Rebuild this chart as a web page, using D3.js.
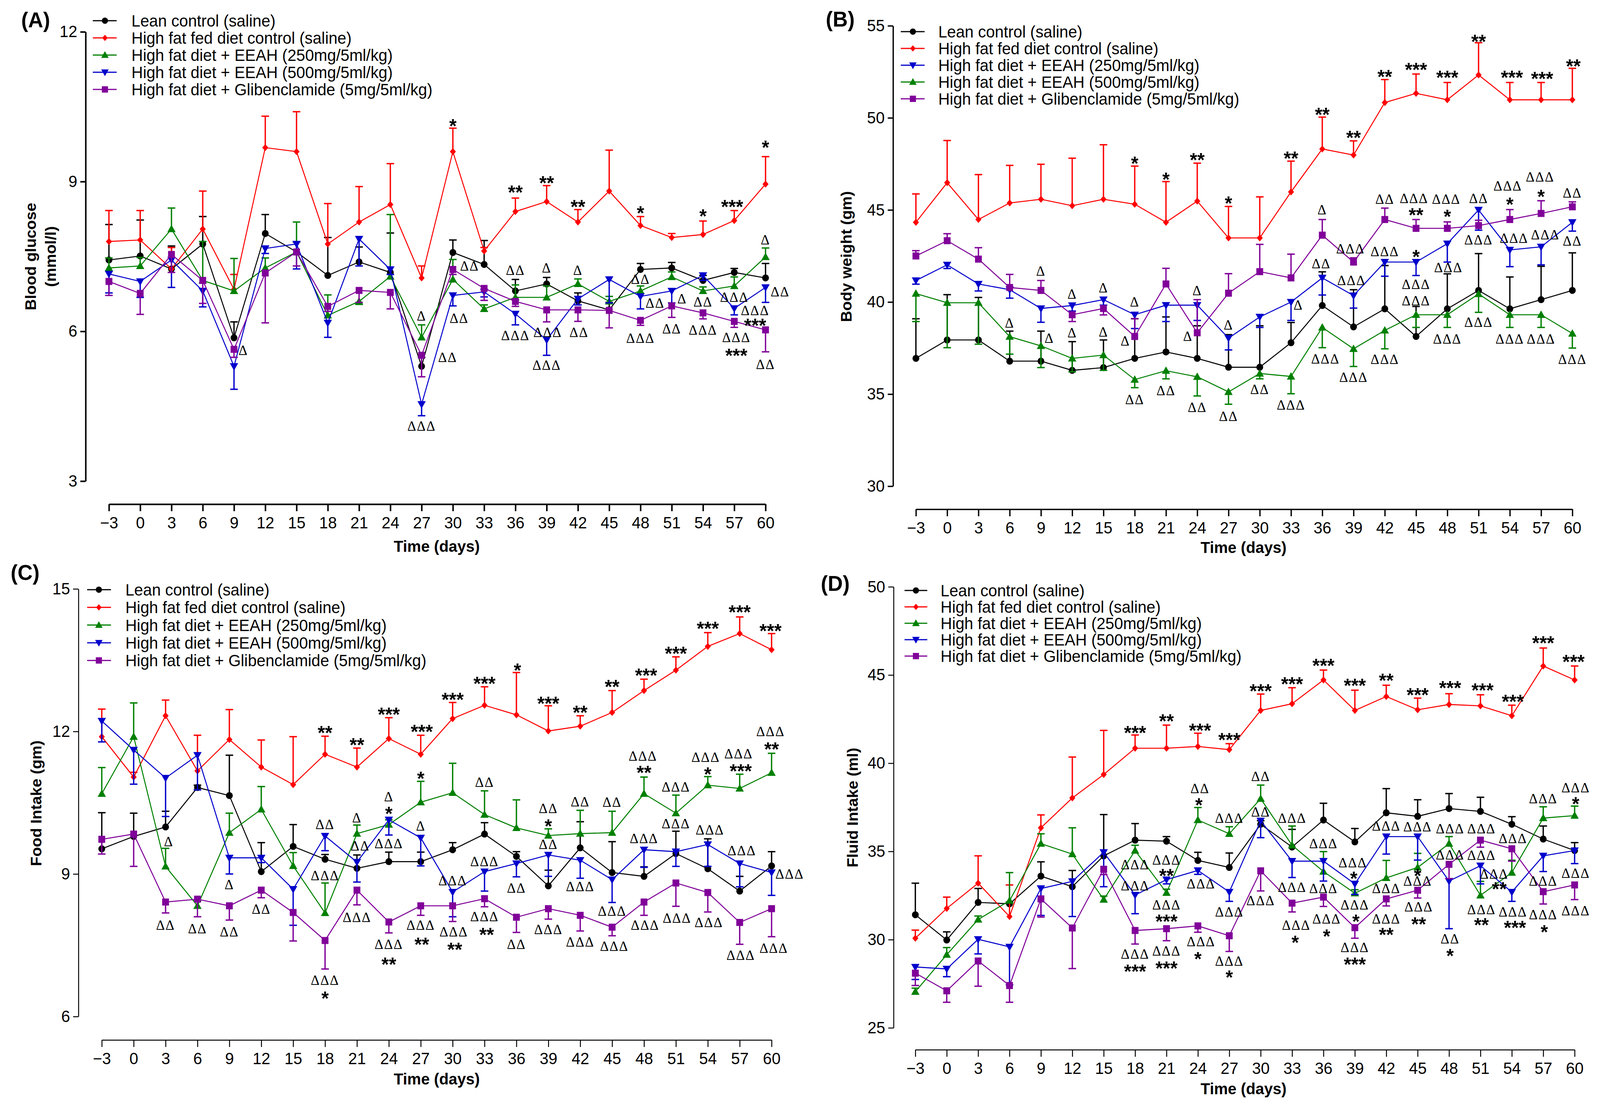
<!DOCTYPE html>
<html>
<head>
<meta charset="utf-8">
<script src="https://cdn.jsdelivr.net/npm/d3@7"></script>
<style>
  html, body { margin: 0; padding: 0; background: #fff; overflow: hidden; }
  svg { display: block; width: 100vw; height: 100vh; }
</style>
</head>
<body>
<svg id="chart" viewBox="0 0 4224 2827" preserveAspectRatio="none"></svg>
<script>
// time points shared by all four panels
const days = [-3, 0, 3, 6, 9, 12, 15, 18, 21, 24, 27, 30, 33, 36, 39, 42, 45, 48, 51, 54, 57, 60];

const legendNames = [
    "Lean control (saline)",
    "High fat fed diet control (saline)",
    "High fat diet + EEAH (250mg/5ml/kg)",
    "High fat diet + EEAH (500mg/5ml/kg)",
    "High fat diet + Glibenclamide (5mg/5ml/kg)"
];

// (A) blood glucose, mmol/l  (err: signed SEM, + drawn up, - drawn down)
const glucoseLean = [7.43, 7.51, 7.25, 7.75, 5.87, 7.96, 7.59, 7.12, 7.39, 7.18, 5.30, 7.58, 7.34, 6.81, 6.95, 6.61, 6.43, 7.24, 7.27, 7.02, 7.18, 7.07];
const glucoseLeanErr = [0.71, 0.72, 0.46, 0.55, 0.32, 0.38, 0.2, 0.76, 0.3, 0.79, 0.18, 0.25, 0.48, 0.23, 0.13, 0.16, 0.15, 0.12, 0.11, 0.1, 0.08, 0.29];
const glucoseHfd = [7.80, 7.83, 7.25, 8.05, 6.84, 9.68, 9.60, 7.75, 8.19, 8.54, 7.07, 9.60, 7.61, 8.40, 8.60, 8.19, 8.81, 8.12, 7.88, 7.94, 8.22, 8.95];
const glucoseHfdErr = [0.62, 0.59, 0.43, 0.76, 0.30, 0.63, 0.80, 0.81, 0.71, 0.82, 0.24, 0.47, 0.07, 0.27, 0.32, 0.25, 0.82, 0.18, 0.08, 0.27, 0.20, 0.55];
const glucose250 = [7.27, 7.31, 8.05, 7.02, 6.81, 7.27, 7.59, 6.32, 6.60, 7.10, 5.88, 7.04, 6.45, 6.68, 6.68, 6.95, 6.60, 6.81, 7.09, 6.81, 6.91, 7.49];
const glucose250Err = [0.2, 0.17, 0.42, 0.78, 0.65, 0.2, 0.6, 0.41, -0.06, 1.24, 0.25, 0.4, 0.08, 0.25, 0.23, 0.1, 0.1, 0.1, 0.1, 0.08, 0.18, 0.18];
const glucose500 = [7.15, 7.0, 7.43, 6.81, 5.30, 7.66, 7.75, 6.17, 7.85, 7.24, 4.54, 6.72, 6.79, 6.35, 5.83, 6.65, 7.04, 6.70, 6.81, 7.12, 6.46, 6.88];
const glucose500Err = [-0.38, -0.32, -0.55, -0.32, -0.46, -0.1, -0.5, -0.29, -0.54, -0.1, -0.23, -0.21, -0.1, -0.22, -0.31, -0.12, -0.47, -0.25, -0.24, -0.1, -0.13, -0.3];
const glucoseGlib = [7.0, 6.76, 7.54, 7.02, 5.64, 7.17, 7.59, 6.5, 6.82, 6.78, 5.52, 7.24, 6.86, 6.60, 6.43, 6.43, 6.42, 6.22, 6.51, 6.37, 6.20, 6.03];
const glucoseGlibErr = [-0.28, -0.42, -0.36, -0.46, -0.16, -1.0, -0.28, -0.1, -0.24, -0.33, -0.43, -0.1, -0.24, -0.1, -0.24, -0.23, -0.35, -0.1, -0.23, -0.12, -0.12, -0.44];

// (B) body weight, gm
const weightLean = [36.94, 37.94, 37.94, 36.79, 36.79, 36.29, 36.44, 36.94, 37.29, 36.94, 36.46, 36.46, 37.79, 39.81, 38.65, 39.63, 38.13, 39.63, 40.63, 39.63, 40.13, 40.63];
const weightLeanErr = [2.15, 2.46, 2.31, 1.63, 1.63, 1.56, 1.5, 2.15, 1.9, 1.77, 1.77, 2.25, 1.1, 1.83, 2.02, 2.35, 1.63, 1.9, 2.0, 1.73, 1.81, 2.04];
const weightHfd = [44.33, 46.48, 44.48, 45.38, 45.58, 45.23, 45.58, 45.31, 44.33, 45.48, 43.48, 43.48, 45.98, 48.31, 47.98, 50.83, 51.33, 50.98, 52.33, 50.98, 50.98, 50.98];
const weightHfdErr = [1.54, 2.29, 2.44, 2.04, 1.9, 2.58, 2.96, 2.07, 2.21, 2.06, 1.71, 2.23, 1.67, 1.73, 0.77, 1.25, 1.05, 0.94, 1.75, 0.94, 0.94, 1.71];
const weight250 = [41.17, 42.02, 40.98, 40.67, 39.65, 39.81, 40.13, 39.31, 39.83, 39.83, 38.04, 39.19, 40.0, 41.31, 40.35, 42.17, 42.17, 43.17, 45.0, 42.83, 43.0, 44.33];
const weight250Err = [-0.2, -0.2, -0.38, -0.46, -0.75, -0.3, -0.3, -0.75, -0.89, -0.83, -0.64, -0.57, -1.0, -0.93, -0.68, -0.77, -0.73, -1.0, -1.1, -0.91, -0.98, -0.48];
const weight500 = [40.46, 39.96, 39.96, 38.12, 37.62, 36.94, 37.12, 35.79, 36.27, 35.94, 35.12, 36.12, 35.96, 38.62, 37.46, 38.46, 39.31, 39.31, 40.44, 39.31, 39.31, 38.29];
const weight500Err = [-1.52, -2.44, -2.25, -0.95, -1.18, -0.73, -0.83, -0.44, -0.44, -1.04, -0.67, -0.29, -0.94, -1.1, -0.96, -1.0, -0.69, -0.69, -1.0, -0.69, -0.69, -0.79];
const weightGlib = [42.5, 43.33, 42.33, 40.79, 40.63, 39.31, 39.65, 38.13, 40.98, 38.33, 40.48, 41.65, 41.31, 43.63, 42.17, 44.48, 44.0, 44.0, 44.15, 44.48, 44.81, 45.17];
const weightGlibErr = [0.29, 0.38, 0.62, 0.71, 0.54, -0.37, -0.35, 0.97, 0.85, 1.8, 1.06, 1.48, 1.29, 0.85, 0.23, 0.62, 0.48, 0.35, 0.29, 0.54, 0.69, 0.27];

// (C) food intake, gm
const foodLean = [9.53, 9.79, 9.99, 10.82, 10.65, 9.05, 9.58, 9.31, 9.12, 9.26, 9.26, 9.51, 9.84, 9.37, 8.75, 9.55, 9.03, 8.95, 9.43, 9.11, 8.64, 9.17];
const foodLeanErr = [0.76, 0.49, 0.33, 0.05, 0.85, 0.61, 0.46, 0.1, 0.28, 0.2, 0.2, 0.15, 0.24, 0.1, 0.33, 0.55, 0.65, 0.2, 0.47, 0.63, 0.31, 0.3];
const foodHfd = [11.89, 11.04, 12.33, 11.17, 11.83, 11.25, 10.88, 11.52, 11.25, 11.85, 11.52, 12.27, 12.55, 12.35, 12.01, 12.11, 12.4, 12.86, 13.29, 13.79, 14.06, 13.72];
const foodHfdErr = [0.58, 0.1, 0.33, 0.75, 0.63, 0.57, 1.01, 0.38, 0.4, 0.44, 0.4, 0.34, 0.39, 0.89, 0.53, 0.22, 0.46, 0.24, 0.28, 0.29, 0.35, 0.34];
const food250 = [10.69, 11.89, 9.16, 8.33, 9.87, 10.36, 9.17, 8.18, 9.85, 10.04, 10.51, 10.71, 10.25, 9.97, 9.81, 9.85, 9.87, 10.69, 10.28, 10.87, 10.8, 11.13];
const food250Err = [0.55, 0.71, 0.38, 0.1, 0.41, 0.48, 0.28, 0.63, 0.18, 0.1, 0.44, 0.62, 0.5, 0.59, 0.14, 0.49, 0.45, 0.35, 0.38, 0.18, 0.3, 0.41];
const food500 = [12.22, 11.61, 11.02, 11.5, 9.34, 9.34, 8.68, 9.8, 9.25, 10.14, 9.76, 8.62, 9.05, 9.22, 9.4, 9.29, 8.88, 9.51, 9.47, 9.62, 9.22, 9.03];
const food500Err = [-0.44, -0.72, -0.81, -0.73, -0.34, -0.1, -0.76, -0.31, -0.42, -0.32, -0.59, -0.52, -0.41, -0.28, -0.45, -0.38, -0.48, -0.37, -0.31, -0.46, -0.49, -0.48];
const foodGlib = [9.73, 9.84, 8.41, 8.47, 8.33, 8.66, 8.19, 7.6, 8.66, 7.99, 8.33, 8.33, 8.48, 8.09, 8.27, 8.13, 7.88, 8.41, 8.81, 8.61, 7.98, 8.27];
const foodGlibErr = [-0.31, -0.68, -0.23, -0.37, -0.3, -0.16, -0.6, -0.6, -0.31, -0.23, -0.2, -0.33, -0.17, -0.32, -0.22, -0.33, -0.18, -0.28, -0.49, -0.41, -0.46, -0.59];

// (D) fluid intake, ml
const fluidLean = [31.41, 29.98, 32.11, 32.03, 33.6, 33.0, 34.75, 35.64, 35.58, 34.49, 34.09, 36.54, 35.25, 36.78, 35.54, 37.19, 36.99, 37.43, 37.27, 36.54, 35.7, 35.05];
const fluidLeanErr = [1.79, 0.46, 0.79, 0.1, 0.81, 0.92, 2.34, 0.94, 0.26, 0.46, 0.82, 0.2, 1.0, 0.95, 0.76, 1.37, 0.94, 0.85, 0.8, 0.43, 0.74, 0.45];
const fluidHfd = [30.08, 31.77, 33.2, 31.31, 36.34, 38.03, 39.36, 40.85, 40.85, 40.95, 40.77, 42.99, 43.37, 44.72, 42.99, 43.78, 43.03, 43.33, 43.25, 42.69, 45.51, 44.72];
const fluidHfdErr = [0.46, 0.64, 1.55, 1.79, 0.73, 2.32, 2.5, 0.75, 1.31, 0.75, 0.34, 0.93, 0.91, 0.56, 1.15, 0.64, 0.66, 0.61, 0.63, 0.6, 1.02, 0.79];
const fluid250 = [27.05, 29.15, 31.14, 32.21, 35.44, 34.85, 32.27, 35.05, 32.66, 36.78, 36.0, 37.99, 35.35, 33.86, 32.63, 33.5, 34.09, 35.44, 32.51, 33.8, 36.89, 37.03];
const fluid250Err = [0.2, 0.4, 0.2, 1.59, 0.56, 1.49, 0.2, 0.3, 0.2, 0.71, 0.4, 0.77, 1.09, 1.13, 0.2, 0.99, 0.8, 0.4, 0.79, 0.7, 0.64, 0.54];
const fluid500 = [28.45, 28.34, 30.02, 29.59, 32.9, 33.3, 34.95, 32.53, 33.4, 33.92, 32.7, 36.74, 34.45, 34.45, 33.16, 35.84, 35.84, 33.32, 34.19, 32.7, 34.75, 35.05];
const fluid500Err = [-0.71, -0.44, -0.83, -2.15, -1.53, -1.99, -1.95, -1.06, -0.24, -0.22, -0.53, -0.96, -0.93, -1.13, -0.6, -0.99, -1.33, -2.7, -1.03, -0.53, -0.89, -0.74];
const fluidGlib = [28.1, 27.1, 28.79, 27.4, 32.31, 30.66, 33.99, 30.52, 30.62, 30.78, 30.22, 33.9, 32.07, 32.41, 30.68, 32.31, 32.8, 34.27, 35.64, 35.15, 32.72, 33.1];
const fluidGlibErr = [-0.7, -0.65, -1.43, -0.95, -1.03, -2.3, -0.3, -0.77, -0.68, -0.36, -0.89, -1.14, -0.5, -0.53, -0.6, -0.4, -0.44, -0.81, -0.4, -0.7, -0.7, -0.83];

// significance marks: [day, value, text]
const glucoseNotes = [
    [9.9, 5.62, "Δ"],
    [27, 6.31, "Δ"], [29.5, 5.48, "ΔΔ"], [27, 4.10, "ΔΔΔ"],
    [30, 10.2, "*"], [31.6, 7.31, "ΔΔ"], [30.6, 6.26, "ΔΔ"],
    [36, 8.87, "**"], [36, 7.22, "ΔΔ"], [36, 5.92, "ΔΔΔ"],
    [39, 9.06, "**"], [39, 7.27, "Δ"], [39.1, 5.98, "ΔΔΔ"], [39, 5.32, "ΔΔΔ"],
    [42, 8.58, "**"], [42, 7.22, "Δ"], [42.1, 5.98, "ΔΔ"],
    [48, 8.46, "*"], [48, 7.04, "ΔΔ"], [49.4, 6.57, "ΔΔ"], [48, 5.86, "ΔΔΔ"],
    [52, 6.65, "Δ"], [51, 6.05, "ΔΔ"],
    [54, 8.39, "*"], [54, 6.59, "ΔΔ"], [54, 6.03, "ΔΔΔ"],
    [56.8, 8.58, "***"], [57, 6.68, "ΔΔΔ"], [57.2, 5.88, "ΔΔΔ"], [57.2, 5.6, "***"],
    [60, 9.77, "*"], [60, 7.83, "Δ"], [61.4, 6.79, "ΔΔ"], [59, 6.42, "ΔΔΔ"], [59, 6.2, "***"], [60, 5.34, "ΔΔ"]
];
const weightNotes = [
    [9, 41.69, "Δ"], [9.8, 38.04, "Δ"], [6, 38.87, "Δ"],
    [12, 40.44, "Δ"], [12, 38.33, "Δ"],
    [15, 40.77, "Δ"], [15, 38.37, "Δ"],
    [18, 40.0, "Δ"], [17.1, 37.88, "Δ"], [18, 34.71, "ΔΔ"], [18, 47.75, "*"],
    [21, 46.88, "*"], [21, 35.19, "ΔΔ"],
    [24, 47.94, "**"], [24, 40.63, "Δ"], [23.1, 38.13, "Δ"], [24, 34.29, "ΔΔ"],
    [27, 45.6, "*"], [27, 38.75, "Δ"], [27, 33.8, "ΔΔ"],
    [30, 35.25, "ΔΔ"],
    [33, 48.04, "**"], [33.7, 39.83, "Δ"], [33, 34.4, "ΔΔΔ"],
    [36, 50.4, "**"], [36, 45.0, "Δ"], [35.9, 42.08, "ΔΔ"], [36.3, 36.92, "ΔΔΔ"],
    [39, 49.15, "**"], [38.7, 42.88, "ΔΔΔ"], [38.8, 41.17, "ΔΔΔ"], [39, 35.92, "ΔΔΔ"],
    [42, 52.46, "**"], [42, 45.58, "ΔΔ"], [42, 42.75, "ΔΔΔ"], [42, 36.88, "ΔΔΔ"],
    [45, 52.85, "***"], [44.8, 45.63, "ΔΔΔ"], [45, 44.96, "**"], [45, 42.69, "*"], [45, 40.96, "ΔΔΔ"], [45, 40.06, "ΔΔΔ"],
    [48, 52.42, "***"], [47.9, 45.58, "ΔΔΔ"], [48, 44.87, "*"], [48.1, 41.88, "ΔΔΔ"], [48, 38.0, "ΔΔΔ"],
    [51, 54.38, "**"], [51, 45.63, "ΔΔ"], [51, 43.37, "ΔΔΔ"], [51, 38.9, "ΔΔΔ"],
    [54.2, 52.42, "***"], [53.8, 46.31, "ΔΔΔ"], [54, 45.54, "*"], [54.4, 43.46, "ΔΔΔ"], [54, 38.0, "ΔΔΔ"],
    [57.1, 52.37, "***"], [56.9, 46.79, "ΔΔΔ"], [57, 45.96, "*"], [57.4, 43.65, "ΔΔΔ"], [57, 38.0, "ΔΔΔ"],
    [60.1, 53.04, "**"], [60, 45.92, "ΔΔ"], [60, 43.31, "ΔΔ"], [60, 36.88, "ΔΔΔ"]
];
const foodNotes = [
    [3.3, 9.68, "Δ"], [3, 7.92, "ΔΔ"], [6, 7.85, "ΔΔ"], [9, 8.78, "Δ"], [9, 7.78, "ΔΔ"], [12, 8.26, "ΔΔ"],
    [18, 12.06, "**"], [18, 10.04, "ΔΔ"], [18, 8.97, "ΔΔΔ"], [18, 6.76, "ΔΔΔ"], [18, 6.47, "*"],
    [21, 11.81, "**"], [21, 10.18, "Δ"], [21.3, 9.59, "ΔΔ"], [21, 8.09, "ΔΔΔ"],
    [24, 12.45, "***"], [24, 10.63, "Δ"], [24, 10.36, "*"], [24, 9.64, "ΔΔΔ"], [24, 7.52, "ΔΔΔ"], [24, 7.19, "**"],
    [27.1, 12.09, "***"], [27, 11.1, "*"], [27, 10.01, "Δ"], [27, 7.92, "ΔΔΔ"], [27.1, 7.61, "**"],
    [30, 12.76, "***"], [30, 8.86, "ΔΔΔ"], [30.1, 7.78, "ΔΔΔ"], [30.2, 7.5, "**"],
    [33, 13.1, "***"], [33, 10.93, "ΔΔ"], [33, 9.26, "ΔΔΔ"], [33, 8.1, "ΔΔΔ"], [33.2, 7.81, "**"],
    [36.1, 13.38, "*"], [36, 8.7, "ΔΔ"], [36, 7.52, "ΔΔ"],
    [39, 12.68, "***"], [39, 10.38, "ΔΔ"], [39, 10.1, "*"], [39, 9.62, "ΔΔ"], [39, 7.83, "ΔΔΔ"],
    [42, 12.49, "**"], [42, 10.52, "ΔΔ"], [42, 8.74, "ΔΔΔ"], [42, 7.57, "ΔΔΔ"],
    [45, 13.03, "**"], [45, 10.51, "ΔΔ"], [45, 8.22, "ΔΔΔ"], [45.2, 7.48, "ΔΔΔ"],
    [48.2, 13.27, "***"], [47.9, 11.48, "ΔΔΔ"], [48, 11.22, "**"], [48, 9.75, "ΔΔΔ"], [48.1, 7.92, "ΔΔΔ"],
    [51, 13.73, "***"], [51, 10.83, "ΔΔΔ"], [51, 10.06, "ΔΔΔ"], [51.1, 8.07, "ΔΔΔ"],
    [54, 14.26, "***"], [53.8, 11.46, "ΔΔΔ"], [54, 11.19, "*"], [54.2, 9.93, "ΔΔΔ"], [54.1, 7.98, "ΔΔΔ"],
    [57, 14.6, "***"], [56.9, 11.53, "ΔΔΔ"], [57.1, 11.26, "***"], [57.2, 9.49, "ΔΔΔ"], [57.1, 7.29, "ΔΔΔ"],
    [59.9, 14.21, "***"], [59.9, 12.0, "ΔΔΔ"], [60, 11.72, "**"], [61.7, 9.0, "ΔΔΔ"], [60.2, 7.44, "ΔΔΔ"]
];
const fluidNotes = [
    [18, 41.96, "***"], [18, 34.25, "ΔΔΔ"], [18, 33.06, "ΔΔΔ"], [18, 29.19, "ΔΔΔ"], [18, 28.45, "***"],
    [21, 42.63, "**"], [21, 34.51, "ΔΔΔ"], [21, 33.86, "**"], [21, 31.97, "ΔΔΔ"], [21, 31.28, "***"], [21, 29.35, "ΔΔΔ"], [21, 28.63, "***"],
    [24.2, 42.1, "***"], [24.2, 38.56, "ΔΔ"], [24.1, 37.87, "*"], [24.3, 33.16, "ΔΔΔ"], [24.3, 29.89, "ΔΔΔ"], [24, 29.15, "*"],
    [27, 41.56, "***"], [27, 36.89, "ΔΔΔ"], [27, 31.57, "ΔΔΔ"], [27, 28.79, "ΔΔΔ"], [27, 28.1, "*"],
    [30, 44.34, "***"], [30, 39.26, "ΔΔ"], [30, 37.23, "ΔΔ"], [30, 32.21, "ΔΔΔ"],
    [33, 44.74, "***"], [33, 36.89, "ΔΔΔ"], [33, 32.96, "ΔΔΔ"], [33.4, 30.82, "ΔΔΔ"], [33.3, 30.08, "*"],
    [36, 45.77, "***"], [36, 35.44, "ΔΔΔ"], [36, 32.9, "ΔΔΔ"], [36.3, 31.18, "ΔΔΔ"], [36.3, 30.44, "*"],
    [39, 44.64, "***"], [38.8, 34.35, "ΔΔΔ"], [38.9, 33.72, "*"], [39, 31.97, "ΔΔΔ"], [39.1, 31.28, "*"], [39, 29.55, "ΔΔΔ"], [39, 28.83, "***"],
    [42, 44.94, "**"], [42, 36.44, "ΔΔΔ"], [42, 32.9, "ΔΔΔ"], [42, 31.18, "ΔΔΔ"], [42, 30.52, "**"],
    [45, 44.12, "***"], [45, 36.4, "ΔΔΔ"], [45, 33.86, "*"], [45, 33.32, "ΔΔΔ"], [45.1, 31.87, "ΔΔΔ"], [45.1, 31.12, "**"],
    [48.1, 44.52, "***"], [48.1, 36.28, "ΔΔΔ"], [48.1, 34.81, "ΔΔΔ"], [48.1, 30.04, "ΔΔ"], [48.1, 29.33, "*"],
    [51.2, 44.38, "***"], [51.1, 36.28, "ΔΔΔ"], [51.1, 34.79, "ΔΔΔ"], [52.3, 33.72, "ΔΔΔ"], [51.1, 31.71, "ΔΔΔ"], [51.1, 31.08, "**"],
    [54.1, 43.74, "***"], [54.1, 35.74, "ΔΔΔ"], [52.8, 33.12, "**"], [54.1, 31.57, "ΔΔΔ"], [54.3, 30.92, "***"],
    [57, 47.06, "***"], [57, 37.99, "ΔΔΔ"], [57, 33.32, "ΔΔΔ"], [57, 31.41, "ΔΔΔ"], [57.1, 30.68, "*"],
    [59.9, 46.0, "***"], [60.1, 38.62, "ΔΔΔ"], [60.1, 37.93, "*"], [60.1, 33.76, "ΔΔΔ"], [60.1, 31.63, "ΔΔΔ"]
];

// series styles
const LEAN = {color: "#000000", shape: "circle"};
const HFD = {color: "#ff0000", shape: "diamond"};
const GREEN = {color: "#008000", shape: "up"};
const BLUE = {color: "#0000cc", shape: "down"};
const GLIB = {color: "#800099", shape: "square"};

const FONT = "'Liberation Sans', Arial, sans-serif";
const SERIF = "'Liberation Serif', 'Times New Roman', serif";

// layout of the four panels (pixels)
const panels = [
    {
        tag: "(A)", tagX: 56, tagY: 70, axisW: 4,
        yTitle: ["Blood glucose", "(mmol/l)"], yTitleX: [81, 133], yTitleY: 657,
        yAxisX: 226, yRange: [1232, 81.5], yDomain: [3, 12], yTicks: [3, 6, 9, 12],
        xAxisY: 1291, xRange: [287.6, 2021], xTitle: [1153, 1399],
        legend: {x0: 245, x1: 308, mx: 277, tx: 347, y: 53, dy: 44},
        series: [
            [glucoseLean, glucoseLeanErr, LEAN], [glucoseHfd, glucoseHfdErr, HFD],
            [glucose250, glucose250Err, GREEN], [glucose500, glucose500Err, BLUE],
            [glucoseGlib, glucoseGlibErr, GLIB]
        ],
        notes: glucoseNotes
    },
    {
        tag: "(B)", tagX: 2180, tagY: 68, axisW: 3.5,
        yTitle: ["Body weight (gm)"], yTitleX: [2234], yTitleY: 657,
        yAxisX: 2357.6, yRange: [1245, 66], yDomain: [30, 55], yTicks: [30, 35, 40, 45, 50, 55],
        xAxisY: 1304, xRange: [2418, 4151], xTitle: [3283, 1402],
        legend: {x0: 2378, x1: 2441, mx: 2410, tx: 2477, y: 81, dy: 43},
        series: [
            [weightLean, weightLeanErr, LEAN], [weightHfd, weightHfdErr, HFD],
            [weight250, weight250Err, BLUE], [weight500, weight500Err, GREEN],
            [weightGlib, weightGlibErr, GLIB]
        ],
        notes: weightNotes
    },
    {
        tag: "(C)", tagX: 28, tagY: 1485, axisW: 2.5,
        yTitle: ["Food Intake (gm)"], yTitleX: [95], yTitleY: 2057,
        yAxisX: 207, yRange: [2603, 1508], yDomain: [6, 15], yTicks: [6, 9, 12, 15],
        xAxisY: 2663, xRange: [268.7, 2037], xTitle: [1153, 2763],
        legend: {x0: 230, x1: 293, mx: 261, tx: 331, y: 1510, dy: 45.3},
        series: [
            [foodLean, foodLeanErr, LEAN], [foodHfd, foodHfdErr, HFD],
            [food250, food250Err, GREEN], [food500, food500Err, BLUE],
            [foodGlib, foodGlibErr, GLIB]
        ],
        notes: foodNotes
    },
    {
        tag: "(D)", tagX: 2167, tagY: 1513, axisW: 2.5,
        yTitle: ["Fluid Intake (ml)"], yTitleX: [2250], yTitleY: 2068,
        yAxisX: 2359, yRange: [2632, 1502.6], yDomain: [25, 50], yTicks: [25, 30, 35, 40, 45, 50],
        xAxisY: 2688, xRange: [2416.5, 4157], xTitle: [3283, 2788],
        legend: {x0: 2388, x1: 2448, mx: 2418, tx: 2483, y: 1512, dy: 42},
        series: [
            [fluidLean, fluidLeanErr, LEAN], [fluidHfd, fluidHfdErr, HFD],
            [fluid250, fluid250Err, GREEN], [fluid500, fluid500Err, BLUE],
            [fluidGlib, fluidGlibErr, GLIB]
        ],
        notes: fluidNotes
    }
];

// marker outlines, centred on 0,0
function shapePath(shape, k) {
    k = k || 1;
    const r = 9 * k;
    switch (shape) {
        case "circle":
            return `M${-r},0A${r},${r} 0 1,0 ${r},0A${r},${r} 0 1,0 ${-r},0Z`;
        case "square":
            return `M${-r},${-r}H${r}V${r}H${-r}Z`;
        case "up":
            return `M0,${-11 * k}L${11 * k},${8 * k}H${-11 * k}Z`;
        case "down":
            return `M0,${11 * k}L${11 * k},${-8 * k}H${-11 * k}Z`;
        case "diamond":
            return `M0,${-9 * k}L${8 * k},0L0,${9 * k}L${-8 * k},0Z`;
    }
}

const svg = d3.select("#chart");
svg.append("rect").attr("width", 4224).attr("height", 2827).attr("fill", "#fff");

const tickFmt = d => d < 0 ? "\u2212" + (-d) : String(d);
const isStar = t => t.charAt(0) === "*";

panels.forEach(function (p) {
    const g = svg.append("g");

    const x = d3.scaleLinear().domain([-3, 60]).range(p.xRange);
    const y = d3.scaleLinear().domain(p.yDomain).range(p.yRange);

    // axes
    const yAxis = g.append("g")
        .attr("transform", `translate(${p.yAxisX},0)`)
        .call(d3.axisLeft(y).tickValues(p.yTicks).tickSize(14).tickSizeOuter(0).tickPadding(8));
    const xAxis = g.append("g")
        .attr("transform", `translate(0,${p.xAxisY})`)
        .call(d3.axisBottom(x).tickValues(days).tickFormat(tickFmt).tickSize(18).tickSizeOuter(0).tickPadding(14));

    [yAxis, xAxis].forEach(function (a) {
        a.selectAll("path, line").attr("stroke", "#000").attr("stroke-width", p.axisW);
        a.selectAll("text")
            .attr("font-family", FONT)
            .attr("font-size", 42)
            .attr("fill", "#000");
    });

    // titles
    g.append("text")
        .attr("x", p.tagX).attr("y", p.tagY)
        .attr("font-family", FONT).attr("font-weight", "bold").attr("font-size", 55)
        .text(p.tag);

    p.yTitle.forEach(function (t, i) {
        g.append("text")
            .attr("transform", `translate(${p.yTitleX[i]},${p.yTitleY}) rotate(-90)`)
            .attr("text-anchor", "middle")
            .attr("dominant-baseline", "central")
            .attr("font-family", FONT).attr("font-weight", "bold").attr("font-size", 40)
            .text(t);
    });

    g.append("text")
        .attr("x", p.xTitle[0]).attr("y", p.xTitle[1])
        .attr("text-anchor", "middle")
        .attr("dominant-baseline", "central")
        .attr("font-family", FONT).attr("font-weight", "bold").attr("font-size", 41)
        .text("Time (days)");

    // series: lines, error bars, markers
    p.series.forEach(function (s) {
        const mean = s[0], err = s[1], st = s[2];
        const pts = days.map((d, i) => ({day: d, v: mean[i], e: err[i]}));
        const sg = g.append("g");

        sg.append("path")
            .datum(pts)
            .attr("fill", "none")
            .attr("stroke", st.color)
            .attr("stroke-width", 2.6)
            .attr("d", d3.line().x(d => x(d.day)).y(d => y(d.v)));

        const bars = sg.selectAll(".bar")
            .data(pts)
            .join("g")
            .attr("stroke", st.color)
            .attr("stroke-width", 3.5);
        bars.append("line")
            .attr("x1", d => x(d.day)).attr("x2", d => x(d.day))
            .attr("y1", d => y(d.v)).attr("y2", d => y(d.v + d.e));
        bars.append("line")
            .attr("x1", d => x(d.day) - 10).attr("x2", d => x(d.day) + 10)
            .attr("y1", d => y(d.v + d.e)).attr("y2", d => y(d.v + d.e));

        sg.selectAll(".pt")
            .data(pts)
            .join("path")
            .attr("transform", d => `translate(${x(d.day)},${y(d.v)})`)
            .attr("d", shapePath(st.shape))
            .attr("fill", st.color);
    });

    // significance marks
    g.selectAll(".note")
        .data(p.notes)
        .join("text")
        .attr("x", d => x(d[0]))
        .attr("y", d => y(d[1]) + (isStar(d[2]) ? 0.57 * 50 : 0.33 * 36))
        .attr("text-anchor", "middle")
        .attr("font-family", d => isStar(d[2]) ? FONT : SERIF)
        .attr("font-weight", d => isStar(d[2]) ? "bold" : "normal")
        .attr("font-size", d => isStar(d[2]) ? 50 : 36)
        .attr("letter-spacing", d => isStar(d[2]) ? 0 : 2)
        .attr("fill", "#000")
        .text(d => d[2]);

    // legend
    const L = p.legend;
    const rows = g.selectAll(".leg")
        .data(p.series.map((s, i) => ({name: legendNames[i], st: s[2]})))
        .join("g")
        .attr("transform", (d, i) => `translate(0,${L.y + i * L.dy})`);
    rows.append("line")
        .attr("x1", L.x0).attr("x2", L.x1)
        .attr("stroke", d => d.st.color).attr("stroke-width", 3);
    rows.append("path")
        .attr("transform", `translate(${L.mx},0)`)
        .attr("d", d => shapePath(d.st.shape, 0.9))
        .attr("fill", d => d.st.color);
    rows.append("text")
        .attr("x", L.tx).attr("y", 15)
        .attr("font-family", FONT).attr("font-size", 42)
        .text(d => d.name);
});
</script>
</body>
</html>
